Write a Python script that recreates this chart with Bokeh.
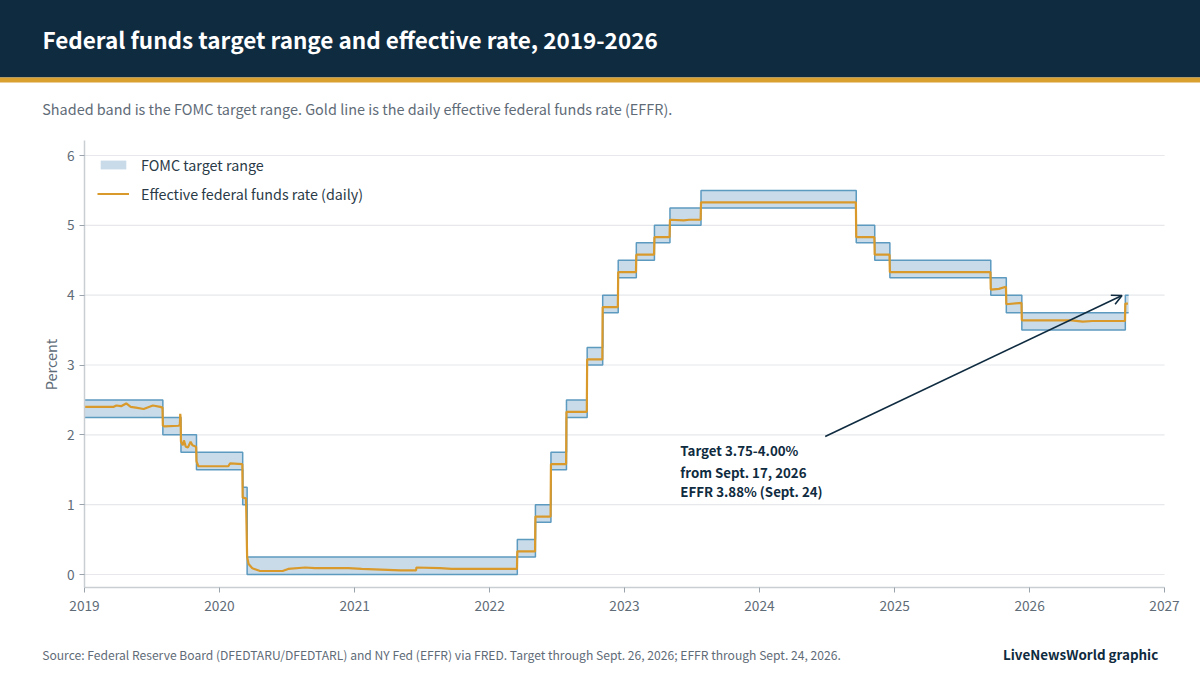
import pandas as pd
from bokeh.embed import file_html
from bokeh.resources import INLINE
from bokeh.plotting import figure
from bokeh.models import (Arrow, BoxAnnotation, FixedTicker, Label, Legend, LegendItem,
                          LinearAxis, OpenHead, Range1d)

TITLE = "Federal funds target range and effective rate, 2019-2026"
SUBTITLE = "Shaded band is the FOMC target range. Gold line is the daily effective federal funds rate (EFFR)."
SOURCE = "Source: Federal Reserve Board (DFEDTARU/DFEDTARL) and NY Fed (EFFR) via FRED. Target through Sept. 26, 2026; EFFR through Sept. 24, 2026."
CREDIT = "LiveNewsWorld graphic"
NOTE_LINES = ["Target 3.75-4.00%", "from Sept. 17, 2026", "EFFR 3.88% (Sept. 24)"]
NOTE_Y = [1.78, 1.46, 1.185]
NOTE_X = "2023-06-01"
ARROW_START = ("2024-06-27", 1.976)
ARROW_END = ("2026-09-08", 3.995)

YEAR_TICKS = [2019, 2020, 2021, 2022, 2023, 2024, 2025, 2026, 2027]
PERCENT_TICKS = [0, 1, 2, 3, 4, 5, 6]

target_dates = ["2019-01-01", "2019-08-01", "2019-09-19", "2019-10-31", "2020-03-04", "2020-03-16",
                "2022-03-17", "2022-05-05", "2022-06-16", "2022-07-28", "2022-09-22", "2022-11-03",
                "2022-12-15", "2023-02-02", "2023-03-23", "2023-05-04", "2023-07-27", "2024-09-19",
                "2024-11-08", "2024-12-19", "2025-09-18", "2025-10-30", "2025-12-11", "2026-09-17",
                "2026-09-26"]
target_low = [2.25, 2.00, 1.75, 1.50, 1.00, 0.00, 0.25, 0.75, 1.50, 2.25, 3.00, 3.75, 4.25, 4.50,
              4.75, 5.00, 5.25, 4.75, 4.50, 4.25, 4.00, 3.75, 3.50, 3.75, 3.75]
target_high = [2.50, 2.25, 2.00, 1.75, 1.25, 0.25, 0.50, 1.00, 1.75, 2.50, 3.25, 4.00, 4.50, 4.75,
               5.00, 5.25, 5.50, 5.00, 4.75, 4.50, 4.25, 4.00, 3.75, 4.00, 4.00]

effr_dates = ["2019-01-01", "2019-03-20", "2019-03-28", "2019-04-10", "2019-04-24", "2019-05-06", "2019-05-20",
              "2019-06-10", "2019-07-05", "2019-07-25", "2019-07-31", "2019-08-01", "2019-08-06", "2019-09-12",
              "2019-09-16", "2019-09-17", "2019-09-18", "2019-09-19", "2019-09-24", "2019-09-27", "2019-10-02",
              "2019-10-08", "2019-10-15", "2019-10-20", "2019-10-30", "2019-10-31", "2019-11-05", "2020-01-25",
              "2020-01-30", "2020-03-03", "2020-03-04", "2020-03-13", "2020-03-16", "2020-03-20", "2020-03-30",
              "2020-04-20", "2020-06-20", "2020-07-05", "2020-08-20", "2020-09-15", "2020-12-15", "2021-01-20",
              "2021-05-05", "2021-06-16", "2021-06-17", "2021-08-20", "2021-09-20", "2022-03-16",
              "2022-03-17", "2022-05-04", "2022-05-05", "2022-06-15", "2022-06-16", "2022-07-27", "2022-07-28",
              "2022-09-21", "2022-09-22", "2022-11-02", "2022-11-03", "2022-12-14", "2022-12-15", "2023-02-01",
              "2023-02-02", "2023-03-22", "2023-03-23", "2023-05-03", "2023-05-04", "2023-06-10", "2023-06-25",
              "2023-07-26", "2023-07-27", "2024-09-18", "2024-09-19", "2024-11-07", "2024-11-08", "2024-12-18",
              "2024-12-19", "2025-09-17", "2025-09-18", "2025-10-10", "2025-10-29", "2025-10-30", "2025-12-10",
              "2025-12-11", "2026-04-25", "2026-05-25", "2026-06-20", "2026-09-16", "2026-09-17", "2026-09-24"]
effr_values = [2.40, 2.40, 2.42, 2.41, 2.45, 2.40, 2.39,
               2.37, 2.42, 2.40, 2.39, 2.13, 2.12, 2.13,
               2.14, 2.30, 2.25, 1.90, 1.85, 1.92, 1.83,
               1.82, 1.90, 1.85, 1.83, 1.62, 1.55, 1.55,
               1.59, 1.58, 1.10, 1.09, 0.25, 0.15, 0.09,
               0.05, 0.05, 0.08, 0.10, 0.09, 0.09, 0.08,
               0.06, 0.06, 0.10, 0.09, 0.08, 0.08,
               0.33, 0.33, 0.83, 0.83, 1.58, 1.58, 2.33,
               2.33, 3.08, 3.08, 3.83, 3.83, 4.33, 4.33,
               4.58, 4.58, 4.83, 4.83, 5.08, 5.07, 5.08,
               5.08, 5.33, 5.33, 4.83, 4.83, 4.58, 4.58,
               4.33, 4.33, 4.08, 4.09, 4.12, 3.87, 3.89,
               3.64, 3.64, 3.62, 3.63, 3.63, 3.88, 3.88]

NAVY = "#0f2b40"
GOLD = "#d99a2b"
GREY = "#5f6c78"
BAND = "#c9dbe9"
EDGE = "#5d9ac0"
FONT = "Noto Sans CJK SC"

W, H = 1201, 676
PLOT_LEFT, PLOT_RIGHT, PLOT_TOP, PLOT_BOTTOM = 85, 1165, 141, 588
ZERO_Y, PX_PER_PERCENT = 575, 69.83


def ms(value):
    return pd.Timestamp(value).timestamp() * 1000


def year_ms(y):
    return ms(f"{y}-01-01")


px_per_ms = (PLOT_RIGHT - PLOT_LEFT) / (year_ms(2027) - year_ms(2019))
x_start = year_ms(2019) - PLOT_LEFT / px_per_ms
x_end = year_ms(2027) + (W - PLOT_RIGHT) / px_per_ms
y_min = (ZERO_Y - H) / PX_PER_PERCENT
y_max = ZERO_Y / PX_PER_PERCENT
axis_y = (ZERO_Y - PLOT_BOTTOM) / PX_PER_PERCENT
axis_top = (ZERO_Y - PLOT_TOP) / PX_PER_PERCENT

p = figure(width=W, height=H, output_backend="svg", toolbar_location=None,
           x_axis_type=None, y_axis_type=None,
           x_range=Range1d(x_start, x_end), y_range=Range1d(y_min, y_max),
           min_border_left=0, min_border_right=0, min_border_top=0, min_border_bottom=0,
           outline_line_color=None, margin=(-1, 0, 0, -1))

x_ticks = [year_ms(y) for y in YEAR_TICKS]
xaxis = LinearAxis(ticker=FixedTicker(ticks=x_ticks), fixed_location=axis_y, bounds=(x_ticks[0], x_ticks[-1]),
                   major_label_overrides={t: str(y) for t, y in zip(x_ticks, YEAR_TICKS)})
yaxis = LinearAxis(ticker=FixedTicker(ticks=PERCENT_TICKS), fixed_location=x_ticks[0], bounds=(axis_y, axis_top))
for ax in (xaxis, yaxis):
    ax.axis_line_color = "#c9ced3"
    ax.axis_line_width = 1.5
    ax.major_tick_line_color = "#9aa3ab"
    ax.major_tick_line_width = 1
    ax.major_tick_out = 5
    ax.major_tick_in = 0
    ax.minor_tick_line_color = None
    ax.major_label_text_color = GREY
    ax.major_label_text_font = FONT
    ax.major_label_text_font_size = "13.7px"
yaxis.major_label_standoff = 5
xaxis.major_label_standoff = 8
p.add_layout(xaxis, "below")
p.add_layout(yaxis, "left")

p.segment(x0=[x_ticks[0]] * len(PERCENT_TICKS), x1=[x_ticks[-1]] * len(PERCENT_TICKS),
          y0=PERCENT_TICKS, y1=PERCENT_TICKS, line_color="#e6e8eb", line_width=1.2)

td = [ms(d) for d in target_dates]
band = p.varea_step(x=td, y1=target_low, y2=target_high, step_mode="after", fill_color=BAND)
p.step(x=td, y=target_low, mode="after", line_color=EDGE, line_width=1.5)
p.step(x=td, y=target_high, mode="after", line_color=EDGE, line_width=1.5)
effr = p.line(x=[ms(d) for d in effr_dates], y=effr_values, line_color=GOLD, line_width=2.2)

legend = Legend(items=[LegendItem(label="FOMC target range", renderers=[band]),
                       LegendItem(label="Effective federal funds rate (daily)", renderers=[effr])],
                location=(98, 471), margin=0, padding=0, spacing=8, glyph_width=32, glyph_height=11,
                label_standoff=12, border_line_color=None, background_fill_alpha=0,
                label_text_font=FONT, label_text_font_size="14.3px", label_text_color="#2a3a47")
p.add_layout(legend, "center")

p.add_layout(Arrow(x_start=ms(ARROW_START[0]), y_start=ARROW_START[1],
                   x_end=ms(ARROW_END[0]), y_end=ARROW_END[1],
                   line_color=NAVY, line_width=1.6,
                   end=OpenHead(size=10, line_color=NAVY, line_width=1.6)))
for text, y in zip(NOTE_LINES, NOTE_Y):
    p.add_layout(Label(x=ms(NOTE_X), y=y, text=text, text_font=FONT,
                       text_font_size="13.3px", text_font_style="bold", text_color=NAVY,
                       text_baseline="middle"))

for top, bottom, color in [(-2, 78, NAVY), (78, 83, "#d9a02f")]:
    p.add_layout(BoxAnnotation(left=-2, right=W + 2, top=H - top, bottom=H - bottom, left_units="screen",
                               right_units="screen", top_units="screen", bottom_units="screen",
                               fill_color=color, fill_alpha=1, line_color=None))


def page_text(text, x, y, size, color, style="normal", align="left", angle=0):
    p.add_layout(Label(x=x, y=H - y, x_units="screen", y_units="screen", text=text, text_font=FONT,
                       text_font_size=size, text_font_style=style, text_color=color, text_align=align,
                       text_baseline="middle", angle=angle, angle_units="deg"))


page_text(TITLE, 43, 39, "22.5px", "#ffffff", "bold")
page_text(SUBTITLE, 42.7, 109, "14.45px", GREY)
page_text("Percent", 50.5, 365, "14.5px", GREY, align="center", angle=90)
page_text(SOURCE, 42.7, 654.5, "12.1px", GREY)
page_text(CREDIT, 1158.7, 654.5, "13.4px", NAVY, "bold", "right")

open("out.html", "w").write(file_html(p, INLINE))
